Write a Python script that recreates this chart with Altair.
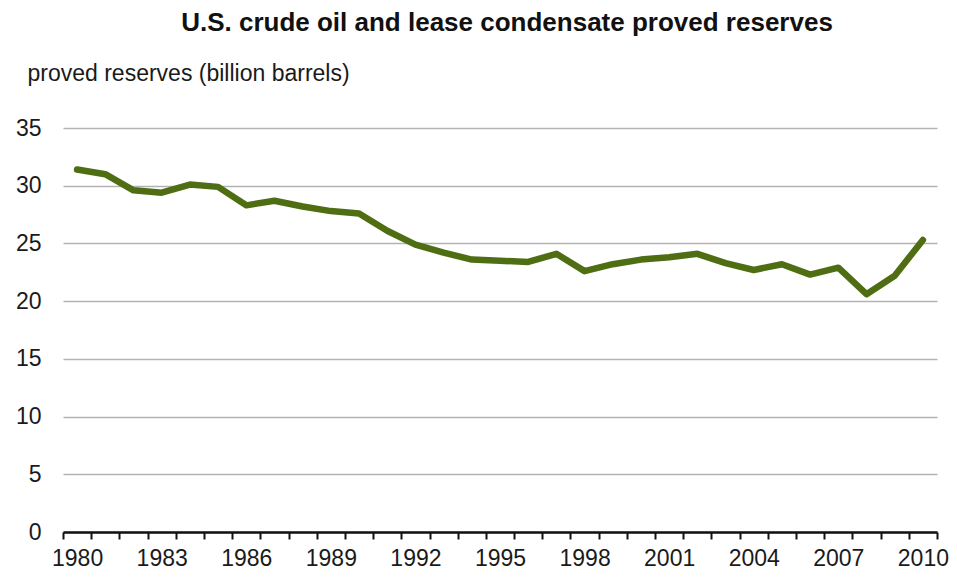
import altair as alt
import pandas as pd

years = list(range(1980, 2011))
reserves = [31.4, 31.0, 29.6, 29.4, 30.1, 29.9, 28.3, 28.7, 28.2, 27.8, 27.6,
            26.1, 24.9, 24.2, 23.6, 23.5, 23.4, 24.1, 22.6, 23.2, 23.6,
            23.8, 24.1, 23.3, 22.7, 23.2, 22.3, 22.9, 20.6, 22.2, 25.3]
y_ticks = [0, 5, 10, 15, 20, 25, 30, 35]
x_tick_positions = [y - 0.5 for y in years] + [years[-1] + 0.5]

df = pd.DataFrame({"year": years, "reserves": reserves})

W, H = 874, 404
step = W / len(years)

font = "Liberation Sans"

chart = alt.Chart(df).mark_line(
    color="#4f6d12", strokeWidth=6.5, strokeCap="round", strokeJoin="round"
).encode(
    x=alt.X(
        "year:Q",
        scale=alt.Scale(domain=[years[0] - 0.5, years[-1] + 0.5], nice=False, zero=False),
        axis=alt.Axis(
            values=x_tick_positions,
            labelExpr="((datum.value + 0.5 - 1980) % 3 == 0) ? '' + (datum.value + 0.5) : ''",
            labelOffset=step / 2,
            labelOverlap=False,
            labelFlush=False,
            labelFont=font,
            labelFontSize=23,
            labelColor="#1a1a1a",
            labelPadding=8,
            tickSize=7,
            tickWidth=2,
            tickColor="#111111",
            domainColor="#111111",
            domainWidth=2.5,
            grid=False,
            title=None,
        ),
    ),
    y=alt.Y(
        "reserves:Q",
        scale=alt.Scale(domain=[0, 35], nice=False),
        axis=alt.Axis(
            values=y_ticks,
            ticks=False,
            tickSize=0,
            domain=False,
            grid=True,
            gridColor="#b3b3b3",
            gridWidth=1.5,
            labelFont=font,
            labelFontSize=23,
            labelColor="#1a1a1a",
            labelPadding=22,
            title="proved reserves (billion barrels)",
            titleAngle=0,
            titleAlign="left",
            titleBaseline="middle",
            titleX=-36,
            titleY=-55,
            titleFont=font,
            titleFontSize=23,
            titleFontWeight="normal",
            titleColor="#1a1a1a",
        ),
    ),
).properties(
    width=W,
    height=H,
    padding={"left": 55, "top": 120, "right": 12, "bottom": 39},
    autosize="none",
    title=alt.TitleParams(
        "U.S. crude oil and lease condensate proved reserves",
        font=font,
        fontSize=26,
        fontWeight="bold",
        color="#111111",
        anchor="middle",
        frame="group",
        baseline="bottom",
        offset=0,
        dx=7,
    ),
).configure_view(stroke=None)

chart.save("out.html", embed_options={"renderer": "svg", "actions": False})
